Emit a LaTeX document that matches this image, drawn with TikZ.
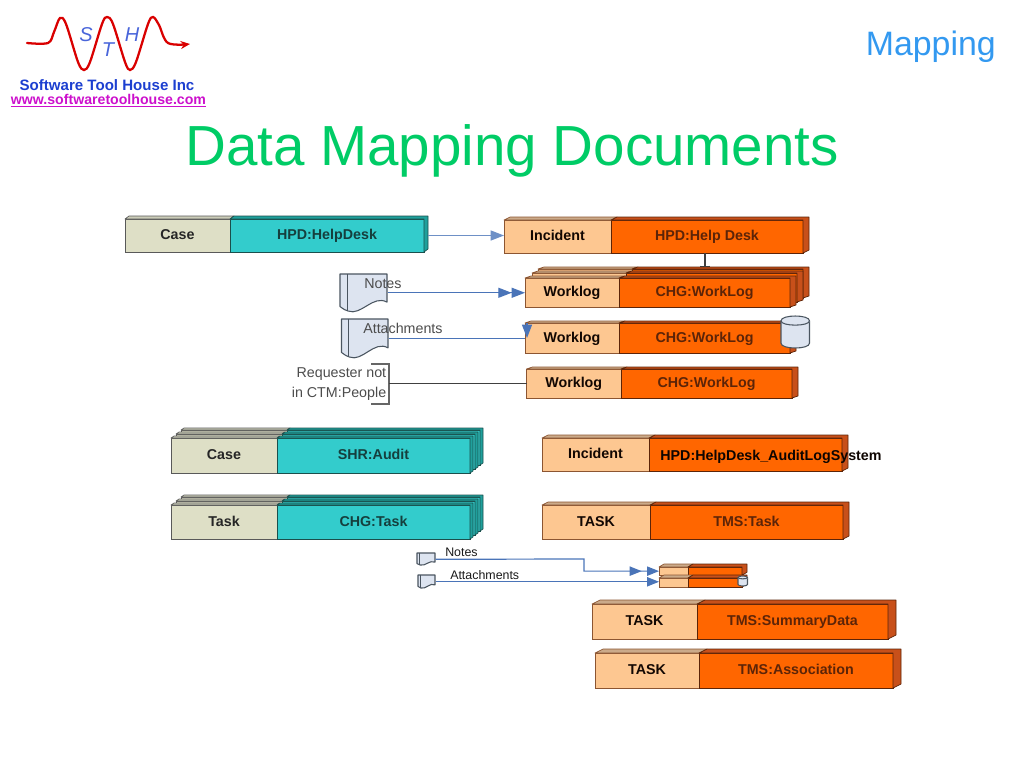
\documentclass[tikz,border=0pt]{standalone}
\usepackage{fontspec}
\setmainfont{Liberation Sans}
\usetikzlibrary{arrows.meta, positioning, calc}
\definecolor{titlegreen}{HTML}{00CC66}
\definecolor{mapblue}   {HTML}{3399F0}
\definecolor{logoblue}  {HTML}{1C3FD0}
\definecolor{logopink}  {HTML}{CC10CC}
\definecolor{peach}     {HTML}{FDC791}
\definecolor{orangemain}{HTML}{FF6600}
\definecolor{orangeedge}{HTML}{5C2408}
\definecolor{orangeside}{HTML}{C8501A}
\definecolor{sand}      {HTML}{DEDFC6}
\definecolor{tealmain}  {HTML}{33CCCC}
\definecolor{tealedge}  {HTML}{1A4F4C}
\definecolor{tealside}  {HTML}{1FA09C}
\definecolor{flowblue}  {HTML}{4A74B8}
\definecolor{docfill}   {HTML}{DDE4F0}
\definecolor{docedge}   {HTML}{4A5560}
\tikzset{
  cell/.style     = {inner sep=0pt, outer sep=0pt, line width=0.7pt, text height=6.2pt, text depth=0pt,
                     font=\fontsize{10.7}{12.5}\selectfont\bfseries},
  orangeL/.style  = {cell, draw=orangeedge!70!peach, fill=peach, text=black!80!orangeedge},
  orangeM/.style  = {cell, draw=orangeedge, fill=orangemain, text=orangeedge},
  orangeT/.style  = {draw=orangeedge!70!peach, fill=peach!60!gray, line width=0.5pt, line join=round},
  orangeD/.style  = {draw=orangeedge, fill=orangeside, line width=0.5pt, line join=round},
  tealL/.style    = {cell, draw=black!65, fill=sand, text=black!85},
  tealM/.style    = {cell, draw=tealedge, fill=tealmain, text=tealedge!80!black},
  tealT/.style    = {draw=black!65, fill=sand!80!gray, line width=0.5pt, line join=round},
  tealD/.style    = {draw=tealedge, fill=tealside, line width=0.5pt, line join=round},
  flow/.style     = {draw=flowblue, line width=0.9pt},
  flowarr/.style  = {flow, -{Triangle[length=10pt,width=7.5pt]}},
  flowtwo/.style  = {flow, -{Triangle[length=10pt,width=7.5pt]Triangle[length=10pt,width=7.5pt]}},
  smallarr/.style = {flow, -{Triangle[length=9pt,width=7pt]}},
  smalltwo/.style = {flow, -{Triangle[length=9pt,width=7pt,sep=4pt]Triangle[length=9pt,width=7pt]}},
  link/.style     = {draw=black!75, line width=0.8pt},
  doc/.style      = {draw=docedge, fill=docfill, line width=0.8pt, line join=round},
  note/.style     = {font=\fontsize{10.7}{12.5}\selectfont, text=black!70, inner sep=0pt},
  tinynote/.style = {font=\fontsize{9.3}{11}\selectfont, text=black!90, inner sep=0pt},
  logoletter/.style = {font=\fontsize{15}{15}\selectfont\itshape, text=logoblue!80, inner sep=0pt},
}
% name, x, y, left width, main width, height, family, left text, main text
\newcommand{\tbl}[9]{%
  \node[#7L, minimum width=#4*0.75pt, minimum height=#6*0.75pt, anchor=north west] (#1L) at (#2,#3) {#8};
  \node[#7M, minimum width=#5*0.75pt, minimum height=#6*0.75pt, right=0pt of #1L] (#1M) {#9};
  \draw[#7T] (#1L.north west) -- ++(\dx,-\dy) -- ($(#1L.north east)+(\dx,-\dy)$) -- (#1L.north east) -- cycle;
  \draw[#7D] (#1M.north west) -- ++(\dx,-\dy) -- ($(#1M.north east)+(\dx,-\dy)$)
    -- ($(#1M.south east)+(\dx,-\dy)$) -- (#1M.south east) -- (#1M.north east) -- cycle;
}
% name, x, y, width, height
\newcommand{\docicon}[5]{%
  \begin{scope}[shift={(#2,#3)}, x=#4*0.75pt, y=#5*0.75pt, yscale=-1]
    \draw[doc] (0,0) -- (1,0) -- (1,.76) .. controls (.7,.55) and (.45,1.14) .. (.17,1)
      .. controls (.1,.97) .. (0,.88) -- cycle;
    \draw[doc] (.15,0) -- (.15,.99);
  \end{scope}
  \node[inner sep=0pt, minimum width=#4*0.75pt, minimum height=#5*0.75pt, anchor=north west] (#1) at (#2,#3) {};
}
\newcommand{\drumicon}[5]{%
  \begin{scope}[shift={(#2,#3)}, x=#4*0.75pt, y=#5*0.75pt, yscale=-1]
    \draw[doc] (0,.15) .. controls (0,-.05) and (1,-.05) .. (1,.15) -- (1,.85)
      .. controls (1,1.05) and (0,1.05) .. (0,.85) -- cycle;
    \draw[doc] (0,.15) .. controls (0,.33) and (1,.33) .. (1,.15);
  \end{scope}
  \node[inner sep=0pt, minimum width=#4*0.75pt, minimum height=#5*0.75pt, anchor=north west] (#1) at (#2,#3) {};
}
\begin{document}
\begin{tikzpicture}[x=0.75pt, y=-0.75pt]
  \useasboundingbox (0,0) rectangle (1024,768);

  % logo
  \draw[red!85!black, line width=1.7pt, line cap=round, -{Stealth[length=7pt,width=6pt]}]
    plot[smooth, tension=0.55] coordinates {(27,43) (48,43) (54,32) (60,18) (66,24) (78,62) (84,70) (90,62)
      (102,24) (107,17) (113,24) (125,62) (130,70) (136,62) (148,24) (153,17) (159,25) (168,43) (190,44)};
  \node[logoletter] (logoS) at (86,35) {S};
  \node[logoletter] (logoT) at (108,50) {T};
  \node[logoletter] (logoH) at (132,35) {H};
  \node[font=\fontsize{11.3}{12}\selectfont\bfseries, text=logoblue, inner sep=0pt] (logoname) at (107,85.5) {Software Tool House Inc};
  \node[font=\fontsize{10.6}{12}\selectfont\bfseries, text=logopink, inner sep=0pt] (logourl) at (108.5,101) {\underline{www.softwaretoolhouse.com}};

  % heading
  \node[font=\fontsize{25.4}{28}\selectfont, text=mapblue, inner sep=0pt, anchor=east] (section) at (996,47) {Mapping};
  \node[font=\fontsize{42.4}{46}\selectfont, text=titlegreen, inner sep=0pt] (heading) at (512,151) {Data Mapping Documents};

  % help desk row
  \def\dx{4}\def\dy{3}
  \tbl{hpd}{125}{219}{105}{194}{33}{teal}{Case}{HPD:HelpDesk}
  \def\dx{6}\def\dy{3}
  \tbl{inc}{504}{220}{107}{192}{33}{orange}{Incident}{HPD:Help Desk}

  % worklog stack
  \def\dx{6}\def\dy{2}
  \tbl{wlc}{538}{269}{94}{171}{29}{orange}{}{}
  \tbl{wlb}{532}{273}{94}{171}{29}{orange}{}{}
  \tbl{wla}{525}{278}{94}{171}{29}{orange}{Worklog}{CHG:WorkLog}
  \tbl{wld}{525}{323}{94}{171}{30}{orange}{Worklog}{CHG:WorkLog}
  \tbl{wle}{526.5}{369}{94.5}{171}{29}{orange}{Worklog}{CHG:WorkLog}
  \drumicon{wldrum}{781}{316}{28.5}{32}

  % documents on the left
  \docicon{notesdoc}{340}{274}{47}{37}
  \docicon{attachdoc}{341.5}{319}{46.5}{38}
  \node[note, anchor=west] (noteslbl) at (364,284) {Notes};
  \node[note, anchor=west] (attachlbl) at (363,328) {Attachments};
  \node[note, align=right, anchor=east, font=\fontsize{10.7}{14.5}\selectfont] (reqlbl) at (386.5,384) {Requester not\\in CTM:People};
  \draw[link, draw=black!60] (371,364) -- (389,364) -- (389,404) -- (371,404);
  \coordinate (reqend) at (389,383.5);

  \draw[flowarr, draw=flowblue!80!white, shorten <=3pt] (hpdM.east) -- (incL.west |- hpdM.east);
  \coordinate (stacktick) at (705,267);
  \draw[link, -{Bar[width=7pt,length=1pt]}] (stacktick |- incM.south) -- (stacktick);
  \draw[flowtwo] (notesdoc.east) -- (notesdoc.east -| wlaL.west);
  \coordinate (attachbend) at (527,323);
  \draw[flow] (attachdoc.east) -- (attachdoc.east -| wldL.west);
  \draw[flowarr] (attachbend) -- (attachbend |- wldL.west);
  \draw[link] (reqend) -- (reqend -| wleL.west);

  % audit row
  \def\dx{3}\def\dy{2}
  \tbl{audc}{181}{430}{106}{193}{35}{teal}{}{}
  \tbl{audb}{176}{434}{106}{193}{35}{teal}{}{}
  \tbl{auda}{171}{438}{106}{193}{35}{teal}{Case}{SHR:Audit}
  \def\dx{6}\def\dy{3}
  \tbl{log}{542}{438}{107}{193}{33}{orange}{Incident}{}
  \node[cell, text=black!85!orangeedge] (logname) at (771,456) {HPD:HelpDesk\_AuditLogSystem};

  % task row
  \def\dx{3}\def\dy{2}
  \tbl{tskc}{181}{497}{106}{193}{34}{teal}{}{}
  \tbl{tskb}{176}{501}{106}{193}{34}{teal}{}{}
  \tbl{tska}{171}{505}{106}{193}{34}{teal}{Task}{CHG:Task}
  \def\dx{6}\def\dy{3}
  \tbl{tms}{542}{505}{108}{193}{34}{orange}{TASK}{TMS:Task}

  % small notes and attachments
  \docicon{snotes}{417}{553}{18}{12}
  \docicon{sattach}{418}{575}{17}{13}
  \node[tinynote, anchor=west] (snoteslbl) at (445,552) {Notes};
  \node[tinynote, anchor=west] (sattachlbl) at (450,575) {Attachments};
  \def\dx{5}\def\dy{3}
  \tbl{sma}{659}{567}{29}{54}{7}{orange}{}{}
  \tbl{smb}{659}{578}{29}{54}{9}{orange}{}{}
  \drumicon{smdrum}{738}{576}{9.5}{10}
  \coordinate (snotesbend) at (584,559);
  \draw[smalltwo] (snotes.east) -- (snotesbend) |- (smaL.west);
  \draw[smallarr] (sattach.east) -- (sattach.east -| smbL.west);

  % summary and association
  \def\dx{8}\def\dy{4}
  \tbl{sum}{592}{604}{105}{191}{35}{orange}{TASK}{TMS:SummaryData}
  \tbl{asc}{595}{653}{104}{194}{35}{orange}{TASK}{TMS:Association}

\end{tikzpicture}
\end{document}
